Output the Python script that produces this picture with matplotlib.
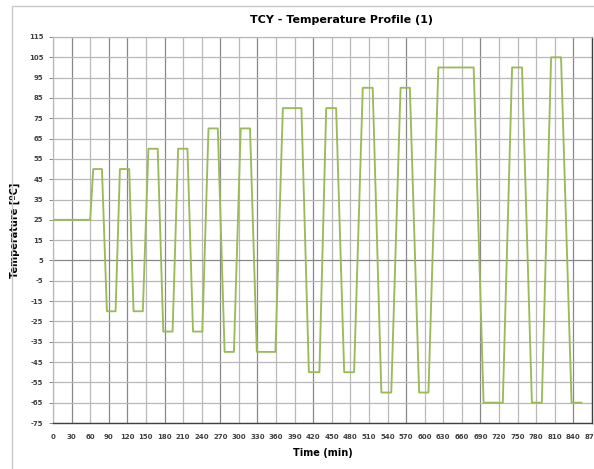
import numpy as np
import matplotlib
matplotlib.use("Agg")
from matplotlib import pyplot as plt
from matplotlib.patches import Rectangle

# profile breakpoints (minutes, degC)
time_min = [0, 60, 65, 79, 87, 101, 108, 123, 130, 145,
            154, 169, 178, 193, 202, 217, 226, 241,
            251, 266, 277, 292, 303, 318, 329, 359,
            371, 401, 413, 430, 441, 457, 470, 486,
            500, 516, 530, 546, 561, 576, 591, 606,
            622, 679, 695, 726, 741, 757, 773, 789,
            804, 820, 837, 853]
temp_c = [25, 25, 50, 50, -20, -20, 50, 50, -20, -20,
          60, 60, -30, -30, 60, 60, -30, -30,
          70, 70, -40, -40, 70, 70, -40, -40,
          80, 80, -50, -50, 80, 80, -50, -50,
          90, 90, -60, -60, 90, 90, -60, -60,
          100, 100, -65, -65, 100, 100, -65, -65,
          105, 105, -65, -65]

x_ticks = list(range(0, 871, 30))
y_ticks = list(range(-75, 116, 10))
dark_x = [30, 90, 120, 180, 270, 330, 420, 570, 690, 840]

fig = plt.figure(figsize=(5.94, 4.69), dpi=100)
ax = fig.add_axes([53 / 594, 1 - 423 / 469, (592 - 53) / 594, (423 - 37) / 469])

# gridlines
for xv in x_ticks:
    c = "#888888" if xv in dark_x else "#b8b8b8"
    ax.axvline(xv, color=c, lw=0.9, zorder=1)
for yv in y_ticks:
    c = "#888888" if yv == 5 else "#b8b8b8"
    ax.axhline(yv, color=c, lw=0.9, zorder=1)

ax.plot(time_min, temp_c, color="#9bbb59", lw=1.35, zorder=3)

ax.set_xlim(0, 870)
ax.set_ylim(-75, 115)
ax.set_xticks(x_ticks)
ax.set_yticks(y_ticks)
ax.set_xticklabels([str(v) for v in x_ticks], fontsize=5, fontweight="bold", color="#404040")
ax.set_yticklabels([str(v) for v in y_ticks], fontsize=5, fontweight="bold", color="#404040")
ax.tick_params(axis="x", length=0, pad=8)
ax.tick_params(axis="y", length=3, width=0.7, color="#888888", pad=4)

for s in ["top", "left"]:
    ax.spines[s].set_color("#b8b8b8")
    ax.spines[s].set_linewidth(0.9)
for s in ["bottom", "right"]:
    ax.spines[s].set_color("#404040")
    ax.spines[s].set_linewidth(1.0)

ax.set_xlabel("Time (min)", fontsize=7, fontweight="bold", labelpad=6)
ax.set_ylabel("Temperature [ºC]", fontsize=7, fontweight="bold", labelpad=6)
fig.text(342 / 594, 1 - 20 / 469, "TCY - Temperature Profile (1)", fontsize=8,
         fontweight="bold", ha="center", va="center")

# outer chart frame
fig.patches.append(Rectangle((12 / 594, -0.02), 1.0, 1 - 6 / 469 + 0.02,
                             transform=fig.transFigure, fill=False,
                             edgecolor="#c8c8c8", lw=1.0))

fig.savefig("out.png", dpi=100)
